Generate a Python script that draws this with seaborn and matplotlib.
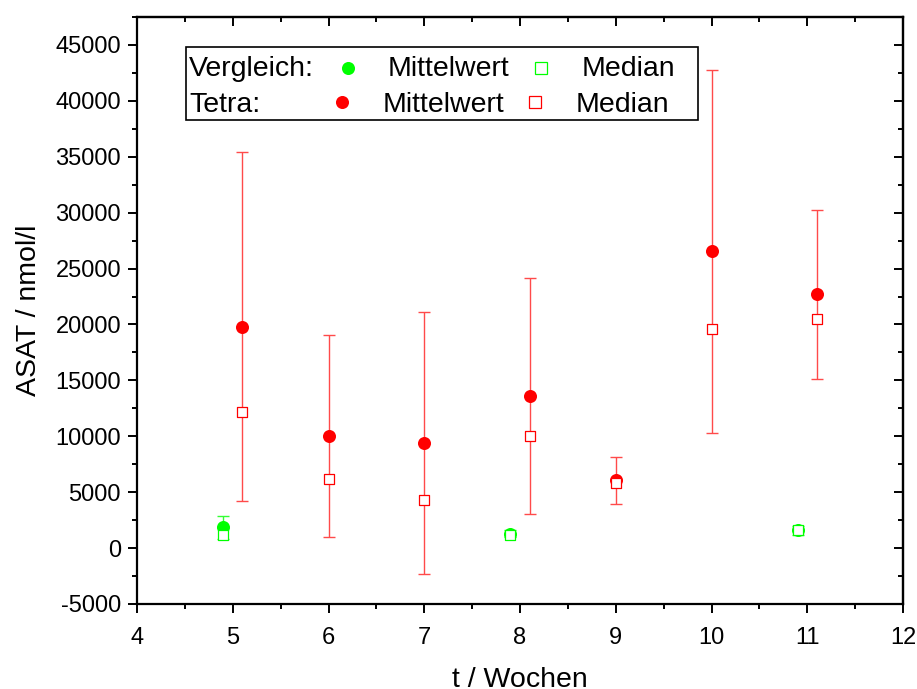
import matplotlib
matplotlib.use("Agg")
import matplotlib.pyplot as plt
from matplotlib.lines import Line2D
from matplotlib.patches import Rectangle
from matplotlib.ticker import MultipleLocator
import numpy as np
import pandas as pd
import seaborn as sns

# ASAT over time: comparison group vs. Tetra group
weeks_ctrl = [4.9, 7.9, 10.9]
ctrl_mean = [1850, 1300, 1600]
ctrl_sd = [1050, 350, 400]
ctrl_median = [1150, 1200, 1580]

weeks_tetra = [5.1, 6.0, 7.0, 8.1, 9.0, 10.0, 11.1]
tetra_mean = [19800, 10050, 9400, 13600, 6050, 26550, 22700]
tetra_sd = [15600, 9050, 11750, 10550, 2100, 16250, 7550]
tetra_median = [12200, 6200, 4300, 10050, 5850, 19600, 20450]

x_ticks = [4, 5, 6, 7, 8, 9, 10, 11, 12]
y_ticks = [-5000, 0, 5000, 10000, 15000, 20000, 25000, 30000, 35000, 40000, 45000]

GREEN = "#00ff00"
RED = "#ff0000"

sns.set_style("ticks")
plt.rcParams["font.family"] = ["Liberation Sans", "DejaVu Sans"]
plt.rcParams["text.color"] = "black"
plt.rcParams["axes.labelcolor"] = "black"
plt.rcParams["xtick.color"] = "black"
plt.rcParams["ytick.color"] = "black"

W, H = 917, 689
fig = plt.figure(figsize=(W / 100, H / 100), dpi=100)
ax = fig.add_axes([137 / W, 1 - 604 / H, (903 - 137) / W, (604 - 17) / H])

ctrl = pd.DataFrame({"t": weeks_ctrl, "mean": ctrl_mean, "sd": ctrl_sd, "median": ctrl_median})
tetra = pd.DataFrame({"t": weeks_tetra, "mean": tetra_mean, "sd": tetra_sd, "median": tetra_median})

for df, col, ecol in [(ctrl, GREEN, "#33ff33"), (tetra, RED, "#ff4a4a")]:
    ax.errorbar(df["t"], df["mean"], yerr=df["sd"], fmt="none", ecolor=ecol,
                elinewidth=1.0, capsize=4.3, capthick=1.0, zorder=2)
    sns.scatterplot(data=df, x="t", y="mean", ax=ax, color=col, marker="o",
                    s=88, linewidth=0, zorder=3, legend=False)
    sns.scatterplot(data=df, x="t", y="median", ax=ax, marker="s", s=62,
                    color=col, facecolor="white", edgecolor=col, linewidth=0.9,
                    zorder=4, legend=False)

ax.set_xlim(4, 12)
ax.set_ylim(-5000, 47500)
ax.set_xticks(x_ticks)
ax.set_yticks(y_ticks)
ax.set_xticklabels([str(v) for v in x_ticks])
ax.set_yticklabels([str(v) for v in y_ticks])
ax.xaxis.set_minor_locator(MultipleLocator(0.5))
ax.yaxis.set_minor_locator(MultipleLocator(2500))

ax.set_xlabel("t / Wochen", fontsize=20.5, labelpad=13, color="black")
ax.set_ylabel("ASAT / nmol/l", fontsize=20.5, labelpad=10, color="black")

for s in ax.spines.values():
    s.set_visible(True)
    s.set_linewidth(1.6)
    s.set_color("black")

ax.tick_params(which="major", direction="out", length=6.5, width=1.4,
               labelsize=17, color="black", labelcolor="black", pad=5)
ax.tick_params(axis="x", which="major", pad=10)
ax.tick_params(which="minor", direction="out", length=3.6, width=1.4, color="black")

# mirrored inward ticks on top and right
top = ax.secondary_xaxis("top")
top.set_xticks(x_ticks)
top.xaxis.set_minor_locator(MultipleLocator(0.5))
top.tick_params(which="major", direction="in", length=6.5, width=1.4, labeltop=False)
top.tick_params(which="minor", direction="in", length=3.6, width=1.4)
top.spines["top"].set_linewidth(1.6)
right = ax.secondary_yaxis("right")
right.set_yticks(y_ticks)
right.yaxis.set_minor_locator(MultipleLocator(2500))
right.tick_params(which="major", direction="in", length=6.5, width=1.4, labelright=False)
right.tick_params(which="minor", direction="in", length=3.6, width=1.4)
right.spines["right"].set_linewidth(1.6)

# key box
def fx(px):
    return px / W

def fy(py):
    return 1 - py / H

box = Rectangle((fx(186), fy(120)), fx(698) - fx(186), fy(47) - fy(120),
                transform=fig.transFigure, facecolor="white", edgecolor="black",
                linewidth=1.2, zorder=10)
fig.patches.append(box)

rows = [
    ("Vergleich:", GREEN, 76, 67.7, 347.7, 388, 541, 582),
    ("Tetra:", RED, 111.5, 102, 342, 383, 535, 576),
]
for label, col, base, cy, dot_x, mw_x, sq_x, md_x in rows:
    fig.text(fx(189), fy(base), label, fontsize=20.5, va="baseline", ha="left", zorder=11)
    fig.text(fx(mw_x), fy(base), "Mittelwert", fontsize=20.5, va="baseline", ha="left", zorder=11)
    fig.text(fx(md_x), fy(base), "Median", fontsize=20.5, va="baseline", ha="left", zorder=11)
    fig.lines.append(Line2D([fx(dot_x)], [fy(cy)], transform=fig.transFigure,
                            marker="o", markersize=9.4, markerfacecolor=col,
                            markeredgewidth=0, linestyle="none", zorder=11))
    fig.lines.append(Line2D([fx(sq_x)], [fy(cy)], transform=fig.transFigure,
                            marker="s", markersize=8, markerfacecolor="white",
                            markeredgecolor=col, markeredgewidth=0.9,
                            linestyle="none", zorder=11))

fig.savefig("out.png", dpi=100, facecolor="white")
